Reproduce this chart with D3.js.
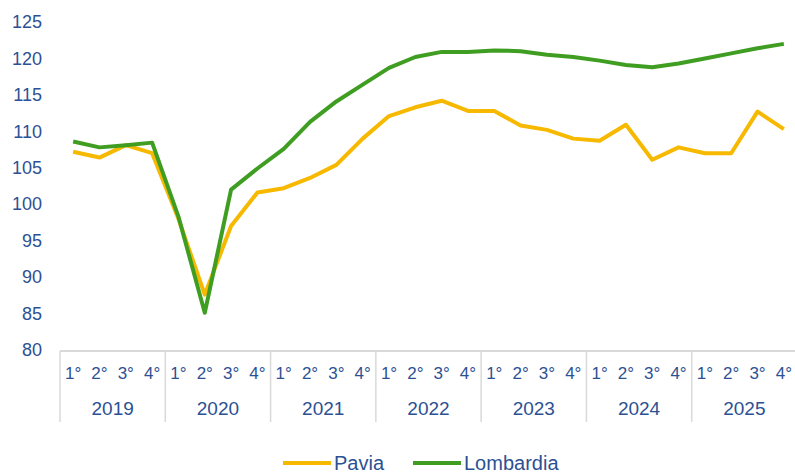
<!DOCTYPE html>
<html lang="it">
<head>
    <meta charset="UTF-8">
    <script src="https://d3js.org/d3.v7.min.js"></script>
    <title>Pavia - Lombardia</title>
    <style>
        body{
            margin: 0;
            background-color: #ffffff;
        }
        text{
            font-family: "Liberation Sans", Arial, sans-serif;
            fill: #2c5193;
        }
    </style>
</head>
<body>
    <div id="chart"></div>
<script>
const years = ["2019", "2020", "2021", "2022", "2023", "2024", "2025"];
const quarters = ["1°", "2°", "3°", "4°"];
const yTicks = [80, 85, 90, 95, 100, 105, 110, 115, 120, 125];

const pavia = [107.2, 106.4, 108.1, 107.0, 98.0, 87.6, 97.0, 101.6,
               102.2, 103.6, 105.4, 109.0, 112.1, 113.3, 114.2, 112.8,
               112.8, 110.8, 110.2, 109.0, 108.7, 110.9, 106.1, 107.8,
               107.0, 107.0, 112.7, 110.3];
const lombardia = [108.6, 107.8, 108.1, 108.45, 98.3, 85.1, 102.0, 104.9,
                   107.6, 111.3, 114.1, 116.4, 118.7, 120.2, 120.9, 120.9,
                   121.1, 121.0, 120.5, 120.2, 119.7, 119.1, 118.8, 119.3,
                   120.0, 120.7, 121.4, 122.0];

const svg = d3.select("#chart").append("svg").attr("width", 795).attr("height", 475);
const margin = { top: 22, left: 60, right: 797, bottom: 350 };

// scales
const yScale = d3.scaleLinear().domain([80, 125]).range([margin.bottom, margin.top]);
const xYear = d3.scaleBand().domain(years).range([margin.left, margin.right]);
const xQuarter = d3.scaleBand().domain(quarters).range([0, xYear.bandwidth()]);
const points = years.flatMap(y => quarters.map(q => ({ year: y, q: q })));
const xPos = i => xYear(points[i].year) + xQuarter(points[i].q) + xQuarter.bandwidth() / 2;

// y axis labels, no line
const yAxis = svg.append("g").attr("transform", "translate(48,0)")
    .call(d3.axisLeft(yScale).tickValues(yTicks).tickSize(0).tickPadding(6));
yAxis.select(".domain").remove();
yAxis.selectAll("text").attr("font-size", 18).attr("font-family", null);

// x axis: base line and year separators
const axisY = 351;
svg.append("line").attr("x1", margin.left).attr("x2", margin.right)
    .attr("y1", axisY).attr("y2", axisY)
    .attr("stroke", "#d9d9d9").attr("stroke-width", 2);
svg.append("g").selectAll("line").data(years.concat(["end"])).join("line")
    .attr("x1", d => d === "end" ? margin.right : xYear(d))
    .attr("x2", d => d === "end" ? margin.right : xYear(d))
    .attr("y1", axisY).attr("y2", 422)
    .attr("stroke", "#d9d9d9").attr("stroke-width", 1.5);

// quarter labels
svg.append("g").selectAll("text").data(points).join("text")
    .attr("x", (d, i) => xPos(i))
    .attr("y", 379)
    .attr("text-anchor", "middle")
    .attr("font-size", 17)
    .text(d => d.q);

// year labels
svg.append("g").selectAll("text").data(years).join("text")
    .attr("x", d => xYear(d) + xYear.bandwidth() / 2)
    .attr("y", 415)
    .attr("text-anchor", "middle")
    .attr("font-size", 19)
    .text(d => d);

// lines
const line = d3.line().x((d, i) => xPos(i)).y(d => yScale(d));
const series = [
    { name: "Pavia", values: pavia, color: "#f7b900" },
    { name: "Lombardia", values: lombardia, color: "#3f9e22" }
];
series.forEach(s => {
    svg.append("path").datum(s.values)
        .attr("fill", "none")
        .attr("stroke", s.color)
        .attr("stroke-width", 4)
        .attr("stroke-linejoin", "round")
        .attr("d", line);
});

// legend
const legendX = [283, 413];
const legend = svg.append("g").selectAll("g").data(series).join("g")
    .attr("transform", (d, i) => `translate(${legendX[i]},463)`);
legend.append("line").attr("x1", 0).attr("x2", 48)
    .attr("stroke", d => d.color).attr("stroke-width", 4);
legend.append("text").attr("x", 51).attr("y", 7)
    .attr("font-size", 20)
    .text(d => d.name);
</script>
</body>
</html>
